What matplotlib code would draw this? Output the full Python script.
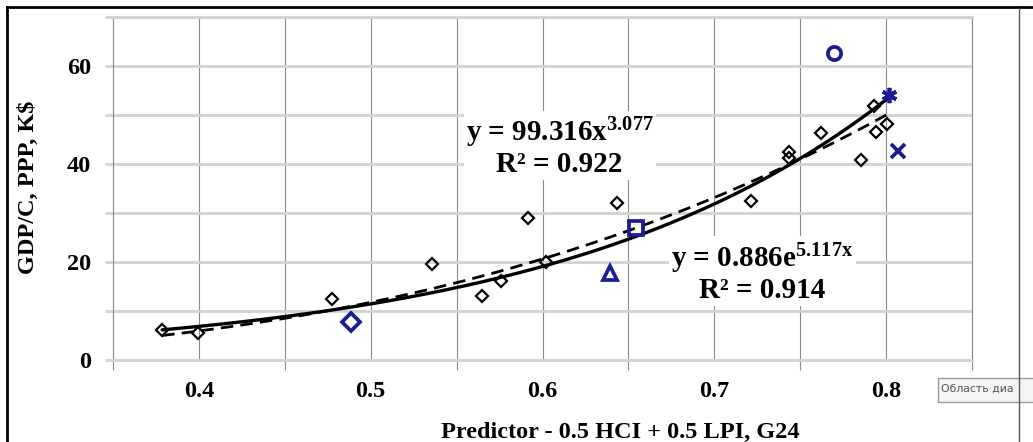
import numpy as np
import matplotlib
matplotlib.use("Agg")
import matplotlib.pyplot as plt
from matplotlib.patches import Rectangle
from matplotlib.lines import Line2D

# ---------------- data ----------------
country_x = [0.3786, 0.3994, 0.4776, 0.5359, 0.5650, 0.5761, 0.5918, 0.6023,
             0.6431, 0.7212, 0.7434, 0.7434, 0.7620, 0.7853, 0.7929, 0.7941, 0.8005]
country_y = [6.1, 5.5, 12.4, 19.6, 13.1, 16.1, 29.0, 20.0,
             32.0, 32.4, 42.4, 41.2, 46.3, 40.8, 51.8, 46.5, 48.2]

# highlighted (blue) countries: x, y, marker
hl_x = [0.4887, 0.6390, 0.6542, 0.7696, 0.8016, 0.8069]
hl_y = [7.8, 17.8, 26.9, 62.7, 54.1, 42.7]
hl_markers = ["D", "^", "s", "o", (6, 2, 0), "x"]

# trendline coefficients
power_a, power_b, power_r2 = 99.316, 3.077, 0.922
exp_a, exp_b, exp_r2 = 0.886, 5.117, 0.914
fit_range = [0.3786, 0.8016]

x_ticks = [0.4, 0.5, 0.6, 0.7, 0.8]
x_minor = [0.35, 0.45, 0.55, 0.65, 0.75, 0.85]
y_ticks = [0, 20, 40, 60]
y_minor = [10, 30, 50, 70]

x_label = "Predictor - 0.5 HCI + 0.5 LPI, G24"
y_label = "GDP/C, PPP, K$"
tooltip = "Область диа"

# ---------------- style ----------------
plt.rcParams["font.family"] = ["Liberation Serif", "DejaVu Serif"]
plt.rcParams["font.weight"] = "bold"
plt.rcParams["mathtext.fontset"] = "custom"
plt.rcParams["mathtext.rm"] = "Liberation Serif:bold"
plt.rcParams["mathtext.it"] = "Liberation Serif:bold"
plt.rcParams["mathtext.bf"] = "Liberation Serif:bold"

W, H = 1033, 442
fig = plt.figure(figsize=(W / 100, H / 100), dpi=100)
fig.patch.set_facecolor("white")

L, R, T, B = 113, 972, 17, 360
ax = fig.add_axes([L / W, 1 - B / H, (R - L) / W, (B - T) / H])
ax.set_xlim(0.35, 0.85)
ax.set_ylim(0, 70)

hcol = "#d2d2d2"
vcol = "#8a8a8a"
ax.set_xticks(x_ticks)
ax.set_xticklabels([f"{v:.1f}" for v in x_ticks])
ax.set_xticks(x_minor, minor=True)
ax.set_yticks(y_ticks)
ax.set_yticks(y_minor, minor=True)
ax.tick_params(axis="x", which="major", length=0, pad=15, labelsize=17.5)
ax.tick_params(axis="x", which="minor", length=7, color=vcol, width=0.8)
ax.tick_params(axis="y", which="both", length=6, color=hcol, width=2)
ax.tick_params(axis="y", which="major", pad=10, labelsize=17.5)
ax.grid(axis="x", which="both", color=vcol, lw=0.8, zorder=0)
ax.grid(axis="y", which="both", color=hcol, lw=2, zorder=0)
ax.set_axisbelow(True)
for s in ["top", "bottom"]:
    ax.spines[s].set_color(hcol)
    ax.spines[s].set_linewidth(2)
for s in ["left", "right"]:
    ax.spines[s].set_color(vcol)
    ax.spines[s].set_linewidth(0.8)

# trendlines
xs = np.linspace(fit_range[0], fit_range[1], 300)
ax.plot(xs, exp_a * np.exp(exp_b * xs), color="black", lw=2.4, zorder=3,
        solid_capstyle="round")
ax.plot(xs, power_a * xs ** power_b, color="black", lw=2.0, zorder=3,
        dashes=(4.5, 2.6))

# points
ax.plot(country_x, country_y, ls="none", marker="D", ms=6.2, mfc="none",
        mec="black", mew=1.6, zorder=4)
blue = "#1c1c96"
sizes = {"D": 9, "^": 9.5, "s": 10, "o": 9.5, "x": 10.5}
for xv, yv, m in zip(hl_x, hl_y, hl_markers):
    ms = sizes.get(m, 11) if isinstance(m, str) else 11
    ax.plot([xv], [yv], ls="none", marker=m, ms=ms, mfc="none", mec=blue,
            mew=2.7, zorder=5)

# equations
box = dict(facecolor="white", edgecolor="none", pad=1.5)
ax.text(0.610, 43.5,
        f"y = {power_a:.3f}x$^{{{power_b:.3f}}}$\nR² = {power_r2:.3f}",
        ha="center", va="center", fontsize=21, fontweight="bold",
        multialignment="center", linespacing=1.05, bbox=box, zorder=2)
ax.text(0.728, 17.9,
        f"y = {exp_a:.3f}e$^{{{exp_b:.3f}x}}$\nR² = {exp_r2:.3f}",
        ha="center", va="center", fontsize=21, fontweight="bold",
        multialignment="center", linespacing=1.05, bbox=box, zorder=2)

# axis titles
fig.text(620 / W, 1 - 432 / H, x_label, ha="center", va="center",
         fontsize=17.5, fontweight="bold")
fig.text(28 / W, 1 - 187 / H, y_label, ha="center", va="center",
         rotation=90, fontsize=17.5, fontweight="bold")

# outer frame lines
fig.add_artist(Line2D([7 / W, 7 / W], [0, 1 - 7 / H], transform=fig.transFigure,
                      color="black", lw=2))
fig.add_artist(Line2D([7 / W, 1], [1 - 7 / H, 1 - 7 / H], transform=fig.transFigure,
                      color="black", lw=2))
fig.add_artist(Line2D([1019 / W, 1019 / W], [0, 1 - 8 / H], transform=fig.transFigure,
                      color="#555555", lw=1))

# tooltip
fig.add_artist(Rectangle((938 / W, 1 - 402 / H), (W - 938) / W + 0.01, 24 / H,
                         transform=fig.transFigure, facecolor="#f4f4f4",
                         edgecolor="#9a9a9a", lw=1))
fig.text(941 / W, 1 - 389 / H, tooltip, ha="left", va="center",
         fontsize=7.8, color="#555555", family=["DejaVu Sans"], fontweight="normal")

fig.savefig("out.png", dpi=100, facecolor="white")
